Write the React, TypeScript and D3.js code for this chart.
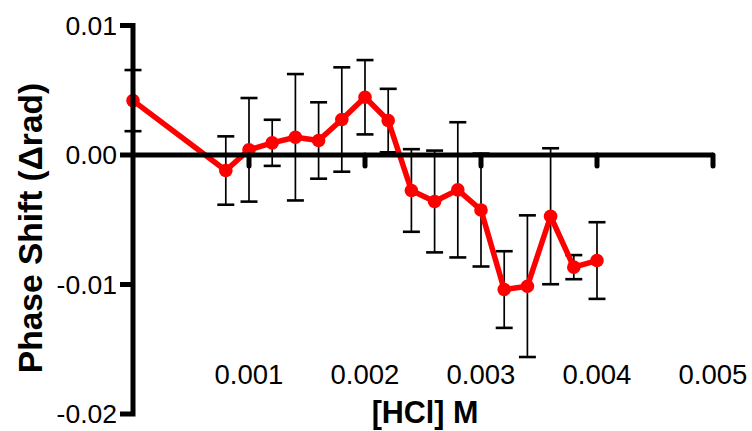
import * as d3 from 'd3';

// [HCl] concentration (M)
const conc = [0, 0.0008, 0.001, 0.0012, 0.0014, 0.0016, 0.0018, 0.002, 0.0022,
  0.0024, 0.0026, 0.0028, 0.003, 0.0032, 0.0034, 0.0036, 0.0038, 0.004];
// phase shift (Δrad)
const shift = [0.0042, -0.0012, 0.0004, 0.00094, 0.00137, 0.00112, 0.00274, 0.00446, 0.00266,
  -0.00274, -0.00359, -0.00269, -0.00425, -0.01039, -0.01013, -0.00473, -0.00866, -0.00815];
// error bar half-widths
const err = [0.00236, 0.00264, 0.0040, 0.00178, 0.00488, 0.00295, 0.00403, 0.00287, 0.00245,
  0.00319, 0.00393, 0.00522, 0.00436, 0.00296, 0.00547, 0.00525, 0.00093, 0.00296];

const xTicks = [0.001, 0.002, 0.003, 0.004, 0.005];
const xTickLabels = ['0.001', '0.002', '0.003', '0.004', '0.005'];
const yTicks = [0.01, 0, -0.01, -0.02];
const yTickLabels = ['0.01', '0.00', '-0.01', '-0.02'];

const W = 752, H = 431;
const font = 'Arial, "Liberation Sans", Helvetica, sans-serif';

export default function App() {
  const x = d3.scaleLinear().domain([0, 0.005]).range([133, 713]);
  const y = d3.scaleLinear().domain([-0.02, 0.01]).range([414, 25.5]);
  const y0 = y(0);
  const pts = conc.map((c, i) => ({ c, v: shift[i], e: err[i] }));

  const line = d3.line<{ c: number; v: number }>()
    .x(d => x(d.c))
    .y(d => y(d.v));

  const tickL = 13; // y tick length (left of axis)
  const axisX = x(0);
  const capW = 8.5;

  return (
    <div style={{ position: 'absolute', left: 0, top: 0 }}>
      <svg width={W} height={H} style={{ display: 'block', background: '#fff' }}>
        {/* error bars */}
        <g stroke="#000">
          {pts.map((d, i) => (
            <g key={i}>
              <line x1={x(d.c)} x2={x(d.c)} y1={y(d.v + d.e)} y2={y(d.v - d.e)} strokeWidth={1.7} />
              <line x1={x(d.c) - capW} x2={x(d.c) + capW} y1={y(d.v + d.e)} y2={y(d.v + d.e)} strokeWidth={2.6} />
              <line x1={x(d.c) - capW} x2={x(d.c) + capW} y1={y(d.v - d.e)} y2={y(d.v - d.e)} strokeWidth={2.6} />
            </g>
          ))}
        </g>

        {/* data line + markers */}
        <path d={line(pts) ?? ''} fill="none" stroke="#ff0000" strokeWidth={5.5} strokeLinejoin="round" />
        <g fill="#ff0000">
          {pts.map((d, i) => (
            <circle key={i} cx={x(d.c)} cy={y(d.v)} r={6.8} />
          ))}
        </g>

        {/* y axis */}
        <path
          d={`M${axisX - tickL},${y(0.01)}H${axisX}V${y(-0.02)}H${axisX - tickL}`}
          fill="none" stroke="#000" strokeWidth={5} strokeLinejoin="miter"
        />
        {yTicks.slice(1, -1).map(t => (
          <line key={t} x1={axisX - tickL} x2={axisX} y1={y(t)} y2={y(t)} stroke="#000" strokeWidth={5} />
        ))}
        {yTicks.map((t, i) => (
          <text key={t} x={117} y={y(t)} dy="0.35em" textAnchor="end"
            fontFamily={font} fontSize={26.5} fill="#000">{yTickLabels[i]}</text>
        ))}

        {/* x axis at y = 0 */}
        <line x1={axisX} x2={x(0.005)} y1={y0} y2={y0} stroke="#000" strokeWidth={5} />
        {xTicks.map(t => (
          <line key={t} x1={x(t)} x2={x(t)} y1={y0} y2={y0 + 11} stroke="#000" strokeWidth={5} strokeLinecap="round" />
        ))}
        {xTicks.map((t, i) => (
          <text key={t} x={x(t)} y={384} textAnchor="middle"
            fontFamily={font} fontSize={27.5} fill="#000">{xTickLabels[i]}</text>
        ))}

        {/* axis titles */}
        <text x={(x(0) + x(0.005)) / 2 + 2} y={423} textAnchor="middle"
          fontFamily={font} fontSize={30.5} fontWeight="bold" fill="#000">[HCl] M</text>
        <text transform={`translate(42,${228}) rotate(-90)`} textAnchor="middle"
          fontFamily={font} fontSize={33.5} fontWeight="bold" fill="#000">Phase Shift (Δrad)</text>
      </svg>
    </div>
  );
}
